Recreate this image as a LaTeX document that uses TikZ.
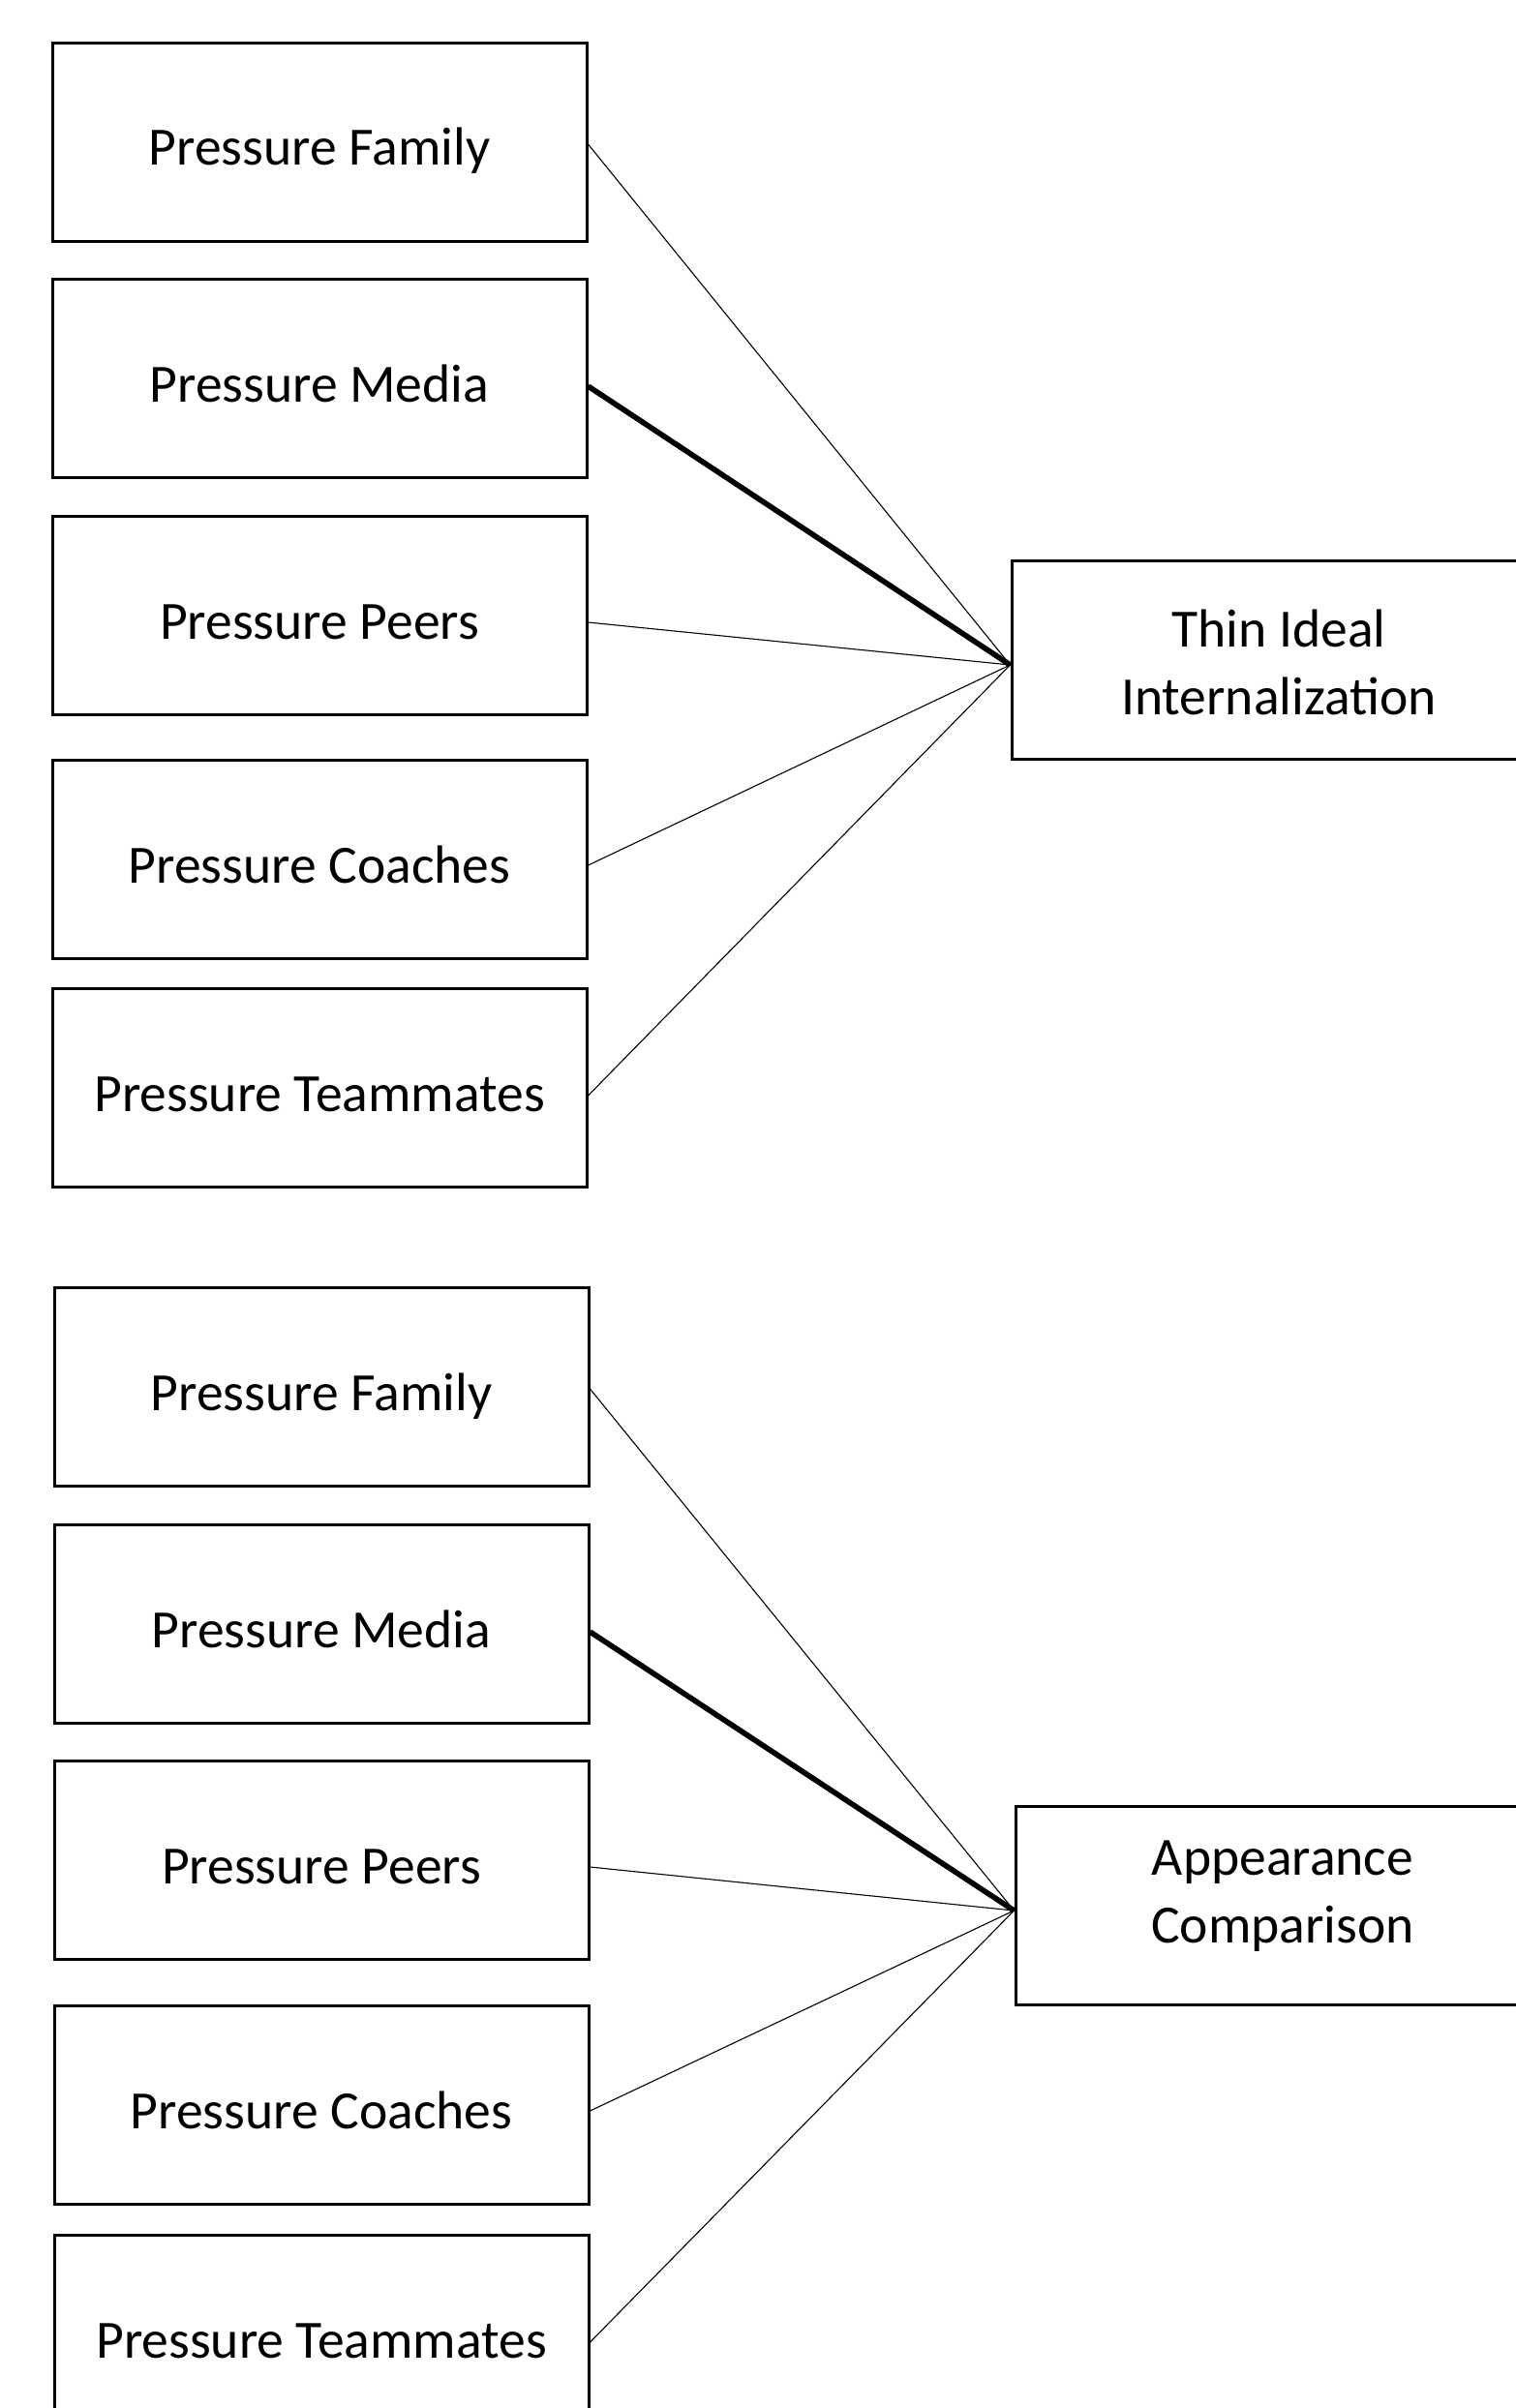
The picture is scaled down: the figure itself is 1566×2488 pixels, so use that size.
\documentclass[tikz,border=0pt]{standalone}
\usepackage{fontspec}
\setmainfont{Carlito}
\begin{document}
\begin{tikzpicture}[x=0.5pt,y=-0.5pt,
  box/.style={draw,line width=1.5pt,rectangle,minimum width=276pt,minimum height=102.5pt,inner sep=0pt,align=center,font=\fontsize{27.8}{35}\selectfont,text height=24pt,text depth=0pt},
  twoline/.style={box,text height=56pt,text depth=0pt},
  thinline/.style={line width=0.55pt},
  thickline/.style={line width=2.8pt}]
\useasboundingbox (0,0) rectangle (1566,2488);
% top group
\node[box] (f1) at (330,147) {Pressure Family};
\node[box] (m1) at (330,391) {Pressure Media};
\node[box] (p1) at (330,636) {Pressure Peers};
\node[box] (c1) at (330,888) {Pressure Coaches};
\node[box] (t1) at (330,1124) {Pressure Teammates};
\node[twoline] (thin) at (1321,682) {Thin Ideal\\Internalization};
% bottom group
\node[box] (f2) at (332,1433) {Pressure Family};
\node[box] (m2) at (332,1678) {Pressure Media};
\node[box] (p2) at (332,1922) {Pressure Peers};
\node[box] (c2) at (332,2175) {Pressure Coaches};
\node[box] (t2) at (332,2412) {Pressure Teammates};
\node[twoline,text height=38.5pt] (app) at (1325,1969) {Appearance\\Comparison};
% connectors top
\draw[thinline] ([yshift=-1pt]f1.east) -- ([yshift=-2.5pt]thin.west);
\draw[thickline] ([yshift=-4pt]m1.east) -- ([yshift=-2.5pt]thin.west);
\draw[thinline] ([yshift=-3.5pt]p1.east) -- ([yshift=-2.5pt]thin.west);
\draw[thinline] ([yshift=-3pt]c1.east) -- ([yshift=-2.5pt]thin.west);
\draw[thinline] ([yshift=-4pt]t1.east) -- ([yshift=-2.5pt]thin.west);
% connectors bottom
\draw[thinline] ([yshift=-1pt]f2.east) -- ([yshift=-2.5pt]app.west);
\draw[thickline] ([yshift=-4pt]m2.east) -- ([yshift=-2.5pt]app.west);
\draw[thinline] ([yshift=-3.5pt]p2.east) -- ([yshift=-2.5pt]app.west);
\draw[thinline] ([yshift=-3pt]c2.east) -- ([yshift=-2.5pt]app.west);
\draw[thinline] ([yshift=-4pt]t2.east) -- ([yshift=-2.5pt]app.west);
\end{tikzpicture}
\end{document}
